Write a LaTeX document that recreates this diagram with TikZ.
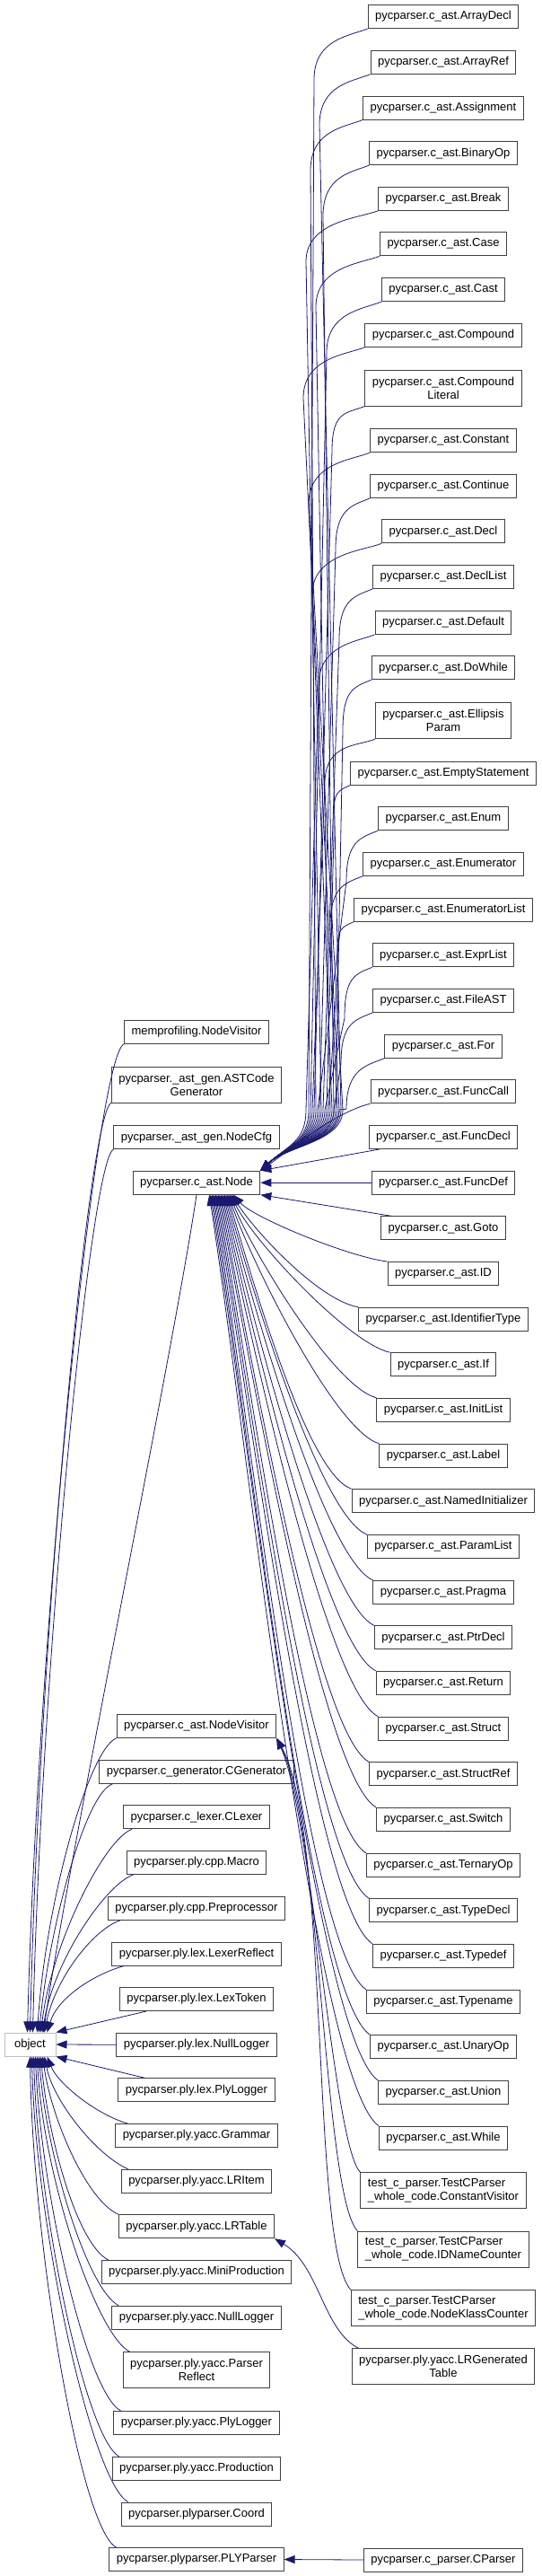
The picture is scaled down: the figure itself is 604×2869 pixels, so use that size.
\documentclass[tikz,border=0pt]{standalone}
\usepackage{fontspec}
\setmainfont{Liberation Sans}
\usetikzlibrary{arrows.meta,calc}
\definecolor{edgeblue}{HTML}{191970}
\definecolor{boxline}{HTML}{404040}
\definecolor{objline}{HTML}{BFBFBF}
\newcommand\pcast{pycparser.c\_ast.}
\begin{document}
\begin{tikzpicture}[x=1pt,y=-1pt,
  cls/.style={draw=boxline, line width=1pt, fill=white, font=\fontsize{13}{15}\selectfont, inner xsep=8pt, inner ysep=0pt, minimum height=26pt},
  cls2/.style={cls, minimum height=40pt, align=center},
  cls2l/.style={cls, minimum height=40pt, align=left},
  objbox/.style={cls, draw=objline, minimum width=57pt},
  edge/.style={draw=edgeblue, line width=0.8pt, -{Triangle[length=12pt,width=9pt]}}]
\useasboundingbox (0,0) rectangle (604,2869);
% ---- root
\node[objbox] (object) at (33.5,2277) {object};
% ---- left column
\node[cls] (MN) at (219,1149.5) {memprofiling.NodeVisitor};
\node[cls2] (AG) at (219,1208) {pycparser.\_ast\_gen.ASTCode\\Generator};
\node[cls] (NC) at (219,1266.7) {pycparser.\_ast\_gen.NodeCfg};
\node[cls] (Node) at (219,1317.2) {\pcast Node};
\node[cls] (NV) at (219,1922.3) {\pcast NodeVisitor};
\node[cls] (CG) at (219,1973.3) {pycparser.c\_generator.CGenerator};
\node[cls] (CX) at (219,2023.8) {pycparser.c\_lexer.CLexer};
\node[cls] (Ma) at (219,2074.5) {pycparser.ply.cpp.Macro};
\node[cls] (PP) at (219,2125.3) {pycparser.ply.cpp.Preprocessor};
\node[cls] (LR) at (219,2176) {pycparser.ply.lex.LexerReflect};
\node[cls] (LT) at (219,2226.5) {pycparser.ply.lex.LexToken};
\node[cls] (LN) at (219,2277.2) {pycparser.ply.lex.NullLogger};
\node[cls] (LP) at (219,2327.8) {pycparser.ply.lex.PlyLogger};
\node[cls] (Gr) at (219,2378.5) {pycparser.ply.yacc.Grammar};
\node[cls] (LI) at (219,2429.2) {pycparser.ply.yacc.LRItem};
\node[cls] (LTb) at (219,2479.7) {pycparser.ply.yacc.LRTable};
\node[cls] (MP) at (219,2530.5) {pycparser.ply.yacc.MiniProduction};
\node[cls] (YN) at (219,2581.3) {pycparser.ply.yacc.NullLogger};
\node[cls2] (PR) at (219,2639.8) {pycparser.ply.yacc.Parser\\Reflect};
\node[cls] (YP) at (219,2698.3) {pycparser.ply.yacc.PlyLogger};
\node[cls] (Pd) at (219,2749.3) {pycparser.ply.yacc.Production};
\node[cls] (Cd) at (219,2800) {pycparser.plyparser.Coord};
\node[cls] (PY) at (219,2850.5) {pycparser.plyparser.PLYParser};
% ---- right column
\node[cls] (AD) at (494,18.5) {\pcast ArrayDecl};
\node[cls] (AR) at (494,69.3) {\pcast ArrayRef};
\node[cls] (As) at (494,120) {\pcast Assignment};
\node[cls] (BO) at (494,170.7) {\pcast BinaryOp};
\node[cls] (Br) at (494,221.3) {\pcast Break};
\node[cls] (Ca) at (494,271.8) {\pcast Case};
\node[cls] (Cs) at (494,322.7) {\pcast Cast};
\node[cls] (Co) at (494,373.3) {\pcast Compound};
\node[cls2] (CL) at (494,432) {\pcast Compound\\Literal};
\node[cls] (Cn) at (494,490.7) {\pcast Constant};
\node[cls] (Ct) at (494,541.5) {\pcast Continue};
\node[cls] (De) at (494,591.8) {\pcast Decl};
\node[cls] (DL) at (494,642.5) {\pcast DeclList};
\node[cls] (Df) at (494,693.3) {\pcast Default};
\node[cls] (DW) at (494,743.8) {\pcast DoWhile};
\node[cls2] (EP) at (494,802.7) {\pcast Ellipsis\\Param};
\node[cls] (ES) at (494,861.2) {\pcast EmptyStatement};
\node[cls] (En) at (494,911.7) {\pcast Enum};
\node[cls] (Er) at (494,962.3) {\pcast Enumerator};
\node[cls] (EL) at (494,1013.3) {\pcast EnumeratorList};
\node[cls] (XL) at (494,1063.8) {\pcast ExprList};
\node[cls] (FA) at (494,1114.5) {\pcast FileAST};
\node[cls] (Fo) at (494,1165.2) {\pcast For};
\node[cls] (FC) at (494,1215.7) {\pcast FuncCall};
\node[cls] (FD) at (494,1266.5) {\pcast FuncDecl};
\node[cls] (FF) at (494,1317.2) {\pcast FuncDef};
\node[cls] (Gt) at (494,1367.8) {\pcast Goto};
\node[cls] (ID) at (494,1418.5) {\pcast ID};
\node[cls] (IT) at (494,1469.2) {\pcast IdentifierType};
\node[cls] (If) at (494,1519.7) {\pcast If};
\node[cls] (IL) at (494,1570.3) {\pcast InitList};
\node[cls] (Lb) at (494,1621.3) {\pcast Label};
\node[cls] (NI) at (494,1671.7) {\pcast NamedInitializer};
\node[cls] (PL) at (494,1722.5) {\pcast ParamList};
\node[cls] (Pr) at (494,1773.2) {\pcast Pragma};
\node[cls] (PD) at (494,1823.8) {\pcast PtrDecl};
\node[cls] (Rt) at (494,1874.3) {\pcast Return};
\node[cls] (St) at (494,1925.2) {\pcast Struct};
\node[cls] (SR) at (494,1975.8) {\pcast StructRef};
\node[cls] (Sw) at (494,2026.3) {\pcast Switch};
\node[cls] (TO) at (494,2077.2) {\pcast TernaryOp};
\node[cls] (TD) at (494,2127.7) {\pcast TypeDecl};
\node[cls] (Ty) at (494,2178.3) {\pcast Typedef};
\node[cls] (Tn) at (494,2229.2) {\pcast Typename};
\node[cls] (UO) at (494,2279.7) {\pcast UnaryOp};
\node[cls] (Un) at (494,2330.5) {\pcast Union};
\node[cls] (Wh) at (494,2381.2) {\pcast While};
\node[cls2l] (TCa) at (494,2439.7) {test\_c\_parser.TestCParser\\\_whole\_code.ConstantVisitor};
\node[cls2l] (TCb) at (494,2505.2) {test\_c\_parser.TestCParser\\\_whole\_code.IDNameCounter};
\node[cls2l] (TCc) at (494,2570.7) {test\_c\_parser.TestCParser\\\_whole\_code.NodeKlassCounter};
\node[cls2] (LG) at (494,2635.8) {pycparser.ply.yacc.LRGenerated\\Table};
\node[cls] (CP) at (494,2851) {pycparser.c\_parser.CParser};
% ---- edges into c_ast.Node from above (crossing bundle)
\foreach \n/\yy/\xt/\xb in {AD/18.5/350/344, AR/69.3/356/380, As/120/346/352, BO/170.7/360/372, Br/221.3/341/358, Ca/271.8/352/368, Cs/322.7/364/346, Co/373.3/338/376, CL/432/370/350, Cn/490.7/344/382, Ct/541.5/374/356, De/591.8/348/370, DL/642.5/378/360, Df/693.3/355/341, DW/743.8/382/374, EP/802.7/362/348, ES/861.2/372/364, En/911.7/386/354, Er/962.3/368/378, EL/1013.3/376/366, XL/1063.8/384/362, FA/1114.5/380/372, Fo/1165.2/386/378}
  \draw[edge] (\n.south west) .. controls +(-20,8) and +(0,-45) .. (\xt,\yy+70) -- (\xb,1236) .. controls +(0,36) and +(30,-28) .. (Node.north east);
\draw[edge] (FC.south west) .. controls +(-40,10) and +(35,-25) .. (Node.north east);
\draw[edge] ($(FD.south west)+(12,0)$) -- (Node.north east);
\draw[edge] (FF.west) -- (Node.east);
\draw[edge] ($(Gt.north west)+(12,0)$) -- (Node.south east);
% ---- edges into c_ast.Node from below
\foreach \n/\yy in {ID/1418.5, IT/1469.2, If/1519.7, IL/1570.3, Lb/1621.3, NI/1671.7, PL/1722.5, Pr/1773.2, PD/1823.8, Rt/1874.3, St/1925.2, SR/1975.8, Sw/2026.3, TO/2077.2, TD/2127.7, Ty/2178.3, Tn/2229.2, UO/2279.7, Un/2330.5, Wh/2381.2}{
  \pgfmathsetmacro\dd{\yy-1317}
  \pgfmathsetmacro\off{44-0.028*\dd}
  \pgfmathsetmacro\ax{-40-0.03*\dd}
  \pgfmathsetmacro\ay{-0.05*\dd}
  \pgfmathsetmacro\bx{20+0.02*\dd}
  \pgfmathsetmacro\by{0.25*\dd}
  \draw[edge] (\n.north west) .. controls +(\ax,\ay) and +(\bx,\by) .. ($(Node.south)+(\off,0)$);
}
% ---- edges into c_ast.NodeVisitor
\draw[edge] (TCa.north west) .. controls +(-30,-30) and +(40,90) .. (NV.south east);
\draw[edge] (TCb.north west) .. controls +(-38,-40) and +(50,100) .. (NV.south east);
\draw[edge] (TCc.north west) .. controls +(-45,-50) and +(60,110) .. (NV.south east);
% ---- other right-hand edges
\draw[edge] ($(LG.north west)+(8,0)$) .. controls +(-40,-20) and +(50,30) .. (LTb.south east);
\draw[edge] (CP.west) -- (PY.east);
% ---- edges into object from above
\draw[edge] (MN.south west) .. controls +(-30,12) and +(12,-460) .. ($(object.north)+(-3,0)$);
\draw[edge] (AG.south west) .. controls +(-25,12) and +(10,-440) .. ($(object.north)+(0,0)$);
\draw[edge] (NC.south west) .. controls +(-25,12) and +(10,-420) .. ($(object.north)+(3,0)$);
\draw[edge] (Node.south) .. controls +(-25,170) and +(25,-180) .. ($(object.north)+(15,0)$);
\draw[edge] (NV.south west) .. controls +(-30,12) and +(10,-150) .. ($(object.north)+(8,0)$);
\draw[edge] ($(CG.south west)+(15,0)$) .. controls +(-30,10) and +(12,-120) .. ($(object.north)+(10,0)$);
\draw[edge] ($(CX.south west)+(10,0)$) .. controls +(-30,10) and +(12,-100) .. ($(object.north)+(12,0)$);
\draw[edge] ($(Ma.south west)+(8,0)$) .. controls +(-30,10) and +(12,-80) .. ($(object.north)+(14,0)$);
\draw[edge] ($(PP.south west)+(14,0)$) .. controls +(-30,10) and +(12,-60) .. ($(object.north)+(16,0)$);
\draw[edge] ($(LR.south west)+(14,0)$) .. controls +(-30,8) and +(12,-40) .. ($(object.north)+(19,0)$);
\draw[edge] ($(LT.south west)+(30,0)$) -- (object.north east);
\draw[edge] (LN.west) -- (object.east);
% ---- edges into object from below
\draw[edge] ($(LP.north west)+(30,0)$) -- (object.south east);
\draw[edge] ($(Gr.north west)+(14,0)$) .. controls +(-35,-10) and +(12,30) .. ($(object.south)+(19,0)$);
\draw[edge] ($(LI.north west)+(8,0)$) .. controls +(-35,-15) and +(10,50) .. ($(object.south)+(16,0)$);
\draw[edge] (LTb.north west) .. controls +(-35,-15) and +(10,70) .. ($(object.south)+(14,0)$);
\draw[edge] ($(MP.north west)+(8,0)$) .. controls +(-35,-18) and +(8,90) .. ($(object.south)+(12,0)$);
\draw[edge] ($(YN.north west)+(8,0)$) .. controls +(-35,-18) and +(8,110) .. ($(object.south)+(10,0)$);
\draw[edge] ($(PR.north west)+(8,0)$) .. controls +(-38,-20) and +(6,130) .. ($(object.south)+(8,0)$);
\draw[edge] ($(YP.north west)+(8,0)$) .. controls +(-38,-20) and +(6,150) .. ($(object.south)+(6,0)$);
\draw[edge] ($(Pd.north west)+(8,0)$) .. controls +(-38,-22) and +(5,170) .. ($(object.south)+(4,0)$);
\draw[edge] ($(Cd.north west)+(8,0)$) .. controls +(-40,-22) and +(4,190) .. ($(object.south)+(2,0)$);
\draw[edge] ($(PY.north west)+(8,0)$) .. controls +(-40,-22) and +(3,210) .. ($(object.south)+(0,0)$);
\end{tikzpicture}
\end{document}
